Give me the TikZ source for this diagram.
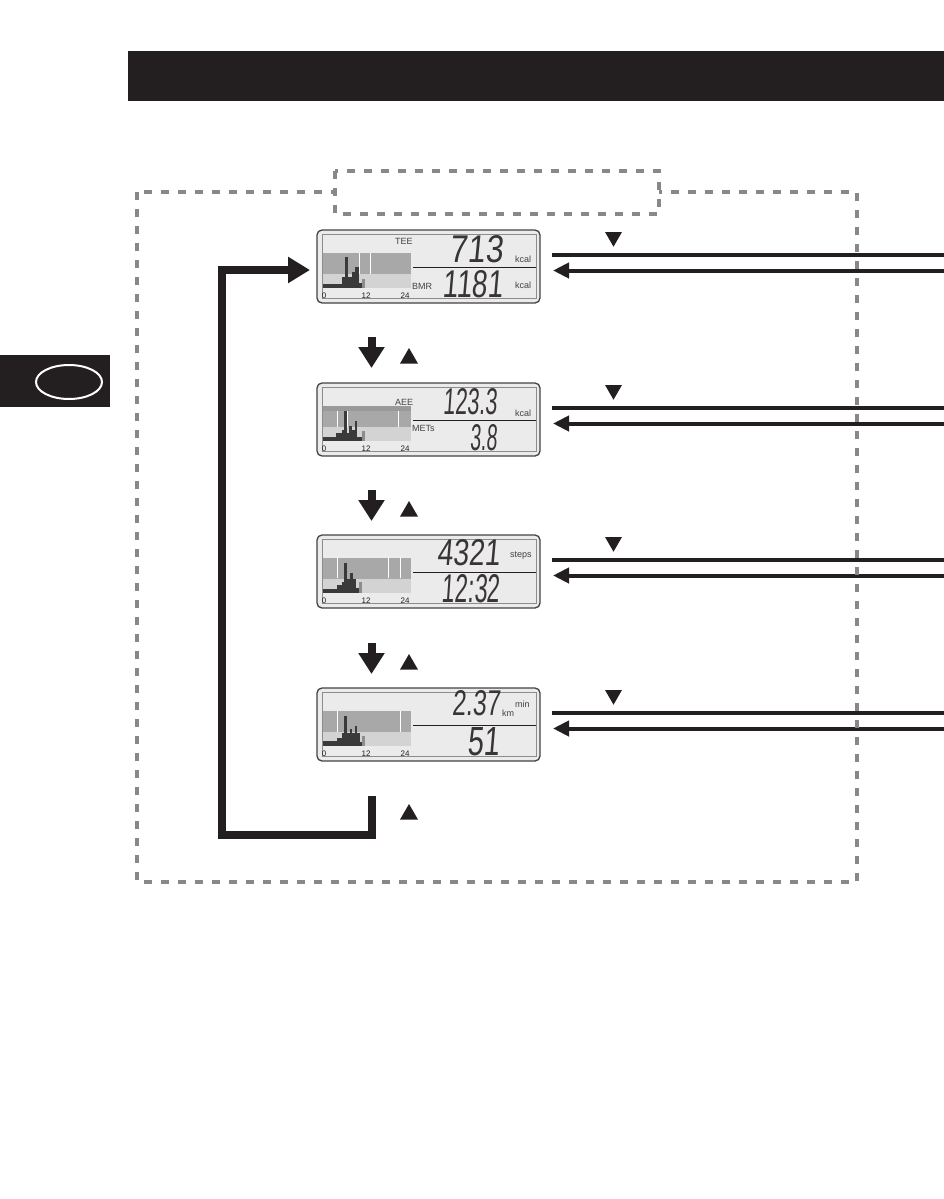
\documentclass[tikz,border=0pt]{standalone}
\usepackage{fontspec}
\setmainfont{Liberation Sans}
\newfontfamily\lcd[FakeSlant=0.12]{Liberation Sans}
\usepackage{graphicx}
\usetikzlibrary{arrows.meta,shapes.geometric}
\definecolor{ink}{HTML}{231F20}
\definecolor{dashgray}{HTML}{888888}
\definecolor{lcdbg}{HTML}{EBEBEB}
\definecolor{bandup}{HTML}{A8A8A8}
\definecolor{bandlow}{HTML}{D3D3D3}
\definecolor{bardark}{HTML}{3A3A3A}
\definecolor{barlight}{HTML}{8C8C8C}
\newcommand\lcdnum[3]{\resizebox{#1pt}{#2pt}{\lcd #3}}
\newcommand\lcdscreen[2]{%
  \node[lcdbox] (#1) at (428.5,#2+36.5) {};
  \draw[lcdinner] (322,#2+4.5) rectangle (536,#2+68.5);
  \fill[bandup] (323,#2+23) rectangle (411,#2+44);
  \fill[bandlow] (323,#2+44) rectangle (411,#2+58);
  \draw[sepline] (413,#2+37) -- (536,#2+37);
  \node[axis] (#1-x0) at (324,#2+68) {0};
  \node[axis] (#1-x12) at (366,#2+68) {12};
  \node[axis] (#1-x24) at (405,#2+68) {24};
  \node[dtri] (#1-dn) at (613.5,#2+6.9) {};
  \coordinate (#1-oa) at (552,#2+25);
  \coordinate (#1-ob) at (944,#2+25);
  \draw[heavy] (#1-oa) -- (#1-ob);
  \coordinate (#1-ia) at (944,#2+40.5);
  \coordinate (#1-ib) at (553,#2+40.5);
  \draw[heavy,-{Triangle[length=16pt,width=15pt]}] (#1-ia) -- (#1-ib);
}
\newcommand\lcdhist[3]{%
  \foreach \xa/\xb/\hh in {#2} {\fill[bardark] (\xa,#1) rectangle (\xb,#1-\hh);}
  \foreach \xa/\xb/\hh in {#3} {\fill[barlight] (\xa,#1) rectangle (\xb,#1-\hh);}
}
\begin{document}
\begin{tikzpicture}[x=1pt,y=-1pt,
  lcdbox/.style={draw=ink!85, line width=1.3pt, fill=lcdbg, rounded corners=5pt,
    minimum width=223pt, minimum height=73pt, inner sep=0pt, outer sep=0pt},
  lcdinner/.style={draw=black!45, line width=0.6pt},
  sepline/.style={draw=ink, line width=0.8pt},
  lbl/.style={font=\fontsize{9}{9}\selectfont, text=ink!85, inner sep=0pt, anchor=base west},
  axis/.style={font=\fontsize{8}{8}\selectfont, text=ink, inner sep=0pt, anchor=base},
  digits/.style={inner sep=0pt, anchor=base east, text=ink!90},
  dtri/.style={regular polygon, regular polygon sides=3, shape border rotate=180,
    fill=ink, minimum size=19.6pt, inner sep=0pt, outer sep=0pt},
  utri/.style={regular polygon, regular polygon sides=3, fill=ink,
    minimum size=20.8pt, inner sep=0pt, outer sep=0pt},
  heavy/.style={draw=ink, line width=4pt},
  bigarrow/.style={draw=ink, line width=8pt, -{Triangle[length=21pt,width=25pt]}},
  looparrow/.style={draw=ink, line width=8pt, line join=miter, -{Triangle[length=22pt,width=25pt]}},
  dashbox/.style={draw=dashgray, line width=4.5pt, dash pattern=on 8pt off 9pt},
  divider/.style={draw=white, line width=0.8pt},
]
\useasboundingbox (0,0) rectangle (944,1199);
\fill[white] (0,0) rectangle (944,1199);

% header bar and side tab
\fill[ink] (128,51) rectangle (944,101);
\node[fill=ink, minimum width=110pt, minimum height=52pt, inner sep=0pt] (tab) at (55,381) {};
\node[draw=white, line width=2pt, ellipse, minimum width=66pt, minimum height=34pt, inner sep=0pt] (tabring) at (69,382) {};

% screens
\lcdscreen{s1}{230}
\lcdscreen{s2}{383}
\lcdscreen{s3}{535}
\lcdscreen{s4}{688}

% band dividers
\draw[divider] (359,253) -- (359,274);
\draw[divider] (370,253) -- (370,274);
\draw[divider] (337,406) -- (337,427);
\draw[divider] (347,406) -- (347,427);
\draw[divider] (398,406) -- (398,427);
\fill[black!40] (323,406) rectangle (411,411);
\draw[divider] (337,557) -- (337,578);
\draw[divider] (388,557) -- (388,578);
\draw[divider] (400,557) -- (400,578);
\draw[divider] (337,711) -- (337,732);
\draw[divider] (400,711) -- (400,732);

% histograms
\lcdhist{288}{323/342/4, 342/345/11, 345/348/31, 348/352/11, 352/355/16, 355/359/21, 359/362/5}{362/365/9}
\lcdhist{441}{323/336/4, 336/342/8, 342/344/11, 344/347/30, 347/349/8, 349/352/15, 352/355/11, 355/357/20, 357/362/4}{362/365/10}
\lcdhist{593}{323/337/4, 337/342/8, 342/344/11, 344/347/30, 347/350/14, 350/353/20, 353/356/14, 356/359/5}{359/362/11}
\lcdhist{746}{323/337/5, 337/342/8, 342/344/13, 344/347/30, 347/350/13, 350/352/17, 352/355/13, 355/357/20, 357/360/13, 360/362/4}{362/365/10}

% screen texts
\node[lbl] (s1-tee) at (395,244) {TEE};
\node[digits] (s1-top) at (503,262) {\lcdnum{53}{27}{713}};
\node[lbl] (s1-u1) at (515,262) {kcal};
\node[lbl] (s1-bmr) at (412,289) {BMR};
\node[digits] (s1-bot) at (503,297) {\lcdnum{60}{27}{1181}};
\node[lbl] (s1-u2) at (515,288) {kcal};

\node[lbl] (s2-aee) at (395,405) {AEE};
\node[digits] (s2-top) at (497,414) {\lcdnum{54}{26}{123.3}};
\node[lbl] (s2-u1) at (515,416) {kcal};
\node[lbl] (s2-mets) at (412,431) {METs};
\node[digits] (s2-bot) at (497,450) {\lcdnum{27}{26}{3.8}};

\node[digits] (s3-top) at (500,565) {\lcdnum{63}{26}{4321}};
\node[lbl] (s3-u1) at (510,557) {steps};
\node[digits] (s3-bot) at (500,602) {\lcdnum{58}{28}{12:32}};

\node[digits] (s4-top) at (500,715) {\lcdnum{48}{25}{2.37}};
\node[lbl] (s4-u1) at (502,716) {km};
\node[lbl] (s4-u2) at (515,707) {min};
\node[digits] (s4-bot) at (500,755) {\lcdnum{32}{28}{51}};

% down arrows and up markers between screens
\coordinate (d1a) at (371.5,337); \coordinate (d1b) at (371.5,368);
\coordinate (d2a) at (371.5,490); \coordinate (d2b) at (371.5,521);
\coordinate (d3a) at (371.5,643); \coordinate (d3b) at (371.5,674);
\draw[bigarrow] (d1a) -- (d1b);
\draw[bigarrow] (d2a) -- (d2b);
\draw[bigarrow] (d3a) -- (d3b);
\node[utri] (u1) at (409,358.4) {};
\node[utri] (u2) at (409,511.4) {};
\node[utri] (u3) at (409,664.4) {};
\node[utri] (u4) at (409,814.4) {};

% return loop
\coordinate (la) at (371.5,796);
\coordinate (lb) at (371.5,835);
\coordinate (lc) at (221.5,835);
\coordinate (ld) at (221.5,270);
\coordinate (le) at (310,270);
\draw[looparrow] (la) -- (lb) -- (lc) -- (ld) -- (le);

% dashed frames
\draw[dashbox] (137,192) rectangle (857,882);
\draw[dashbox, fill=white] (335,171) rectangle (659,214);
\end{tikzpicture}
\end{document}
